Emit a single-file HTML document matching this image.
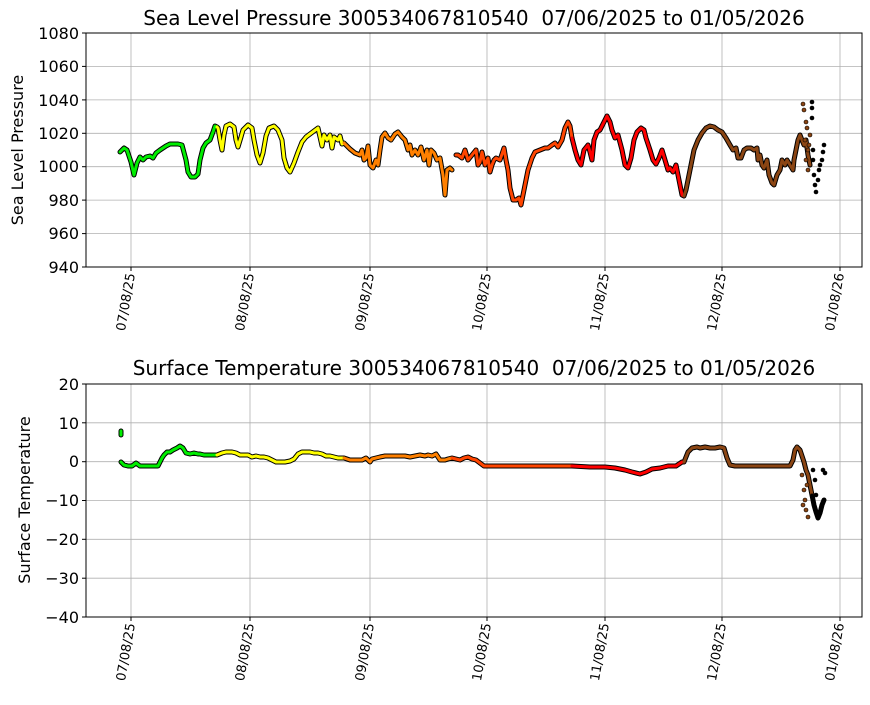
<!DOCTYPE html>
<html><head><meta charset="utf-8"><style>
body{margin:0;background:#fff}
text{font-family:"DejaVu Sans","Liberation Sans",sans-serif}
</style></head><body>
<svg width="870" height="700" xmlns="http://www.w3.org/2000/svg">
<rect width="870" height="700" fill="#fff"/>
<g stroke="#b0b0b0" stroke-width="0.8">
<line x1="131" y1="33" x2="131" y2="267"/><line x1="250" y1="33" x2="250" y2="267"/><line x1="370" y1="33" x2="370" y2="267"/><line x1="487" y1="33" x2="487" y2="267"/><line x1="605" y1="33" x2="605" y2="267"/><line x1="722" y1="33" x2="722" y2="267"/><line x1="840" y1="33" x2="840" y2="267"/>
<line x1="86" y1="66.4" x2="862" y2="66.4"/><line x1="86" y1="99.9" x2="862" y2="99.9"/><line x1="86" y1="133.3" x2="862" y2="133.3"/><line x1="86" y1="166.7" x2="862" y2="166.7"/><line x1="86" y1="200.1" x2="862" y2="200.1"/><line x1="86" y1="233.6" x2="862" y2="233.6"/>
<line x1="131" y1="384" x2="131" y2="617"/><line x1="250" y1="384" x2="250" y2="617"/><line x1="370" y1="384" x2="370" y2="617"/><line x1="487" y1="384" x2="487" y2="617"/><line x1="605" y1="384" x2="605" y2="617"/><line x1="722" y1="384" x2="722" y2="617"/><line x1="840" y1="384" x2="840" y2="617"/>
<line x1="86" y1="422.8" x2="862" y2="422.8"/><line x1="86" y1="461.7" x2="862" y2="461.7"/><line x1="86" y1="500.5" x2="862" y2="500.5"/><line x1="86" y1="539.3" x2="862" y2="539.3"/><line x1="86" y1="578.2" x2="862" y2="578.2"/>
</g>
<g fill="none" stroke-linejoin="round" stroke-linecap="round">
<g stroke="#000" stroke-width="5">
<polyline points="120,152 124,148 127,150 131,162 134,175 137,163 140,157 143,160 146,157 150,156 153,158 156,153 160,150 163,148 166,146 170,144 174,144 178,144 182,145 186,160 188,172 191,177 195,177 198,174 200,160 203,148 206,143 210,140 213,132 215,126 217,127 218,128 220,140 222,150 224,135 226,126 230,124 234,127 236,140 238,147 241,137 243,130 248,125 252,128 254,140 257,155 260,163 263,153 266,136 269,128 274,126 278,130 282,140 284,158 287,168 290,172 294,163 298,152 302,142 306,137 310,134 314,131 318,128 320,137 322,146 324,135 327,140 330,135 332,148 334,137 338,140 340,136 342,144 344,143 350,149 355,153 360,155 362,150 364,160 366,158 368,146 370,165 373,168 376,160 378,165 380,150 382,137 385,133 388,138 391,140 395,134 398,132 402,137 405,140 408,150 410,145 412,155 415,150 418,155 421,147 424,160 427,150 429,165 431,150 434,153 437,160 440,158 443,175 445,195 447,170 450,168 452,170"/>
<polyline points="456,155 458,155 462,158 465,150 468,160 472,155 476,150 478,165 480,162 482,152 485,165 488,158 490,172 492,165 494,160 496,158 500,160 504,148 506,160 508,170 510,188 513,200 516,200 519,198 521,205 523,195 526,180 528,170 532,158 535,152 540,150 545,148 548,148 552,145 555,143 558,147 562,140 565,128 568,122 570,126 572,138 575,150 578,160 581,165 584,150 588,145 590,152 592,160 594,140 597,132 600,130 604,122 607,116 610,122 612,130 615,138 618,135 622,150 625,165 628,168 631,158 634,140 637,132 641,128 644,130 646,138 650,150 653,160 656,164 659,158 662,150 665,160 668,170 670,168 673,172 676,165 679,180 682,195 684,196 686,190 690,170 694,150 698,140 702,133 706,128 710,126 714,127 718,130 722,132 726,138 730,145 733,150 736,148 738,158 741,158 744,150 747,148 751,148 754,150 757,148 758,160 760,155 762,165 764,168 767,160 769,175 772,183 774,185 777,175 780,170 782,160 785,165 787,160 790,165 793,170 794,160 796,150 798,140 800,135 802,140 804,145 806,140 808,155 810,165"/>
<polyline points="121,462 124,465 128,466 132,466 136,463 140,466 145,466 150,466 155,466 158,466 160,462 162,458 164,455 167,452 170,452 173,450 177,448 180,446 183,448 186,453 190,454 194,453 198,454 200,454 204,455 210,455 217,455 222,453 226,452 232,452 236,453 240,455 244,455 248,455 252,457 256,456 260,457 264,457 268,458 272,460 276,462 280,462 285,462 290,461 294,459 298,454 302,452 306,452 310,452 314,453 318,453 322,454 326,456 330,456 334,457 338,458 344,458 350,460 356,460 362,460 366,458 370,462 372,459 376,458 380,457 385,456 390,456 395,456 400,456 405,456 410,457 415,456 420,455 425,456 428,455 432,456 436,454 440,460 445,460 448,459 452,458 456,459 460,460 464,458 468,457 472,459 476,460 480,463 484,466 490,466 500,466 520,466 540,466 560,466 572,466 590,467 605,467 615,468 625,470 632,472 640,474 646,472 652,469 660,468 668,466 676,466 682,462 684,462 688,452 692,448 697,447 700,448 705,447 710,448 715,448 720,447 724,448 727,458 730,465 735,466 745,466 760,466 775,466 790,466 793,460 795,450 797,447 800,450 802,456 804,462 806,470 808,475 810,485 812,495 814,505 816,512 818,518 820,513 822,505 824,500"/>
<polyline points="121,431 121,435"/>
</g>
<g stroke-width="3">
<polyline stroke="#00ee00" points="120,152 124,148 127,150 131,162 134,175 137,163 140,157 143,160 146,157 150,156 153,158 156,153 160,150 163,148 166,146 170,144 174,144 178,144 182,145 186,160 188,172 191,177 195,177 198,174 200,160 203,148 206,143 210,140 213,132 215,126 217,127"/>
<polyline stroke="#ffff00" points="217,127 218,128 220,140 222,150 224,135 226,126 230,124 234,127 236,140 238,147 241,137 243,130 248,125 252,128 254,140 257,155 260,163 263,153 266,136 269,128 274,126 278,130 282,140 284,158 287,168 290,172 294,163 298,152 302,142 306,137 310,134 314,131 318,128 320,137 322,146 324,135 327,140 330,135 332,148 334,137 338,140 340,136 342,144 344,143"/>
<polyline stroke="#ff8000" points="344,143 350,149 355,153 360,155 362,150 364,160 366,158 368,146 370,165 373,168 376,160 378,165 380,150 382,137 385,133 388,138 391,140 395,134 398,132 402,137 405,140 408,150 410,145 412,155 415,150 418,155 421,147 424,160 427,150 429,165 431,150 434,153 437,160 440,158 443,175 445,195 447,170 450,168 452,170"/>
<polyline stroke="#ff4500" points="456,155 458,155 462,158 465,150 468,160 472,155 476,150 478,165 480,162 482,152 485,165 488,158 490,172 492,165 494,160 496,158 500,160 504,148 506,160 508,170 510,188 513,200 516,200 519,198 521,205 523,195 526,180 528,170 532,158 535,152 540,150 545,148 548,148 552,145 555,143 558,147 562,140 565,128 568,122 570,126 572,138"/>
<polyline stroke="#ff0000" points="572,138 575,150 578,160 581,165 584,150 588,145 590,152 592,160 594,140 597,132 600,130 604,122 607,116 610,122 612,130 615,138 618,135 622,150 625,165 628,168 631,158 634,140 637,132 641,128 644,130 646,138 650,150 653,160 656,164 659,158 662,150 665,160 668,170 670,168 673,172 676,165 679,180 682,195 684,196"/>
<polyline stroke="#8b4513" points="684,196 686,190 690,170 694,150 698,140 702,133 706,128 710,126 714,127 718,130 722,132 726,138 730,145 733,150 736,148 738,158 741,158 744,150 747,148 751,148 754,150 757,148 758,160 760,155 762,165 764,168 767,160 769,175 772,183 774,185 777,175 780,170 782,160 785,165 787,160 790,165 793,170 794,160 796,150 798,140 800,135 802,140 804,145 806,140 808,155 810,165"/>
<polyline stroke="#00ee00" points="121,431 121,435"/>
<polyline stroke="#00ee00" points="121,462 124,465 128,466 132,466 136,463 140,466 145,466 150,466 155,466 158,466 160,462 162,458 164,455 167,452 170,452 173,450 177,448 180,446 183,448 186,453 190,454 194,453 198,454 200,454 204,455 210,455 217,455"/>
<polyline stroke="#ffff00" points="217,455 222,453 226,452 232,452 236,453 240,455 244,455 248,455 252,457 256,456 260,457 264,457 268,458 272,460 276,462 280,462 285,462 290,461 294,459 298,454 302,452 306,452 310,452 314,453 318,453 322,454 326,456 330,456 334,457 338,458 344,458"/>
<polyline stroke="#ff8000" points="344,458 350,460 356,460 362,460 366,458 370,462 372,459 376,458 380,457 385,456 390,456 395,456 400,456 405,456 410,457 415,456 420,455 425,456 428,455 432,456 436,454 440,460 445,460 448,459 452,458"/>
<polyline stroke="#ff4500" points="452,458 456,459 460,460 464,458 468,457 472,459 476,460 480,463 484,466 490,466 500,466 520,466 540,466 560,466 572,466"/>
<polyline stroke="#ff0000" points="572,466 590,467 605,467 615,468 625,470 632,472 640,474 646,472 652,469 660,468 668,466 676,466 682,462 684,462"/>
<polyline stroke="#8b4513" points="684,462 688,452 692,448 697,447 700,448 705,447 710,448 715,448 720,447 724,448 727,458 730,465 735,466 745,466 760,466 775,466 790,466 793,460 795,450 797,447 800,450 802,456 804,462 806,470 808,475 810,485 812,495"/>
<polyline stroke="#000" points="812,495 814,505 816,512 818,518 820,513 822,505 824,500"/>
</g>
</g>
<g stroke="#000" stroke-width="0.6">
<g fill="#8b4513">
<circle cx="803" cy="104" r="2"/><circle cx="804" cy="110" r="2"/><circle cx="806" cy="122" r="2"/><circle cx="807" cy="128" r="2"/><circle cx="805" cy="140" r="2"/><circle cx="808" cy="150" r="2"/><circle cx="806" cy="160" r="2"/><circle cx="809" cy="145" r="2"/><circle cx="808" cy="170" r="2"/><circle cx="810" cy="135" r="2"/>
<circle cx="802" cy="475" r="2"/><circle cx="804" cy="490" r="2"/><circle cx="805" cy="500" r="2"/><circle cx="806" cy="510" r="2"/><circle cx="808" cy="517" r="2"/><circle cx="803" cy="505" r="2"/><circle cx="807" cy="485" r="2"/>
</g>
<g fill="#000">
<circle cx="812" cy="102" r="2"/><circle cx="812" cy="108" r="2"/><circle cx="812" cy="118" r="2"/><circle cx="813" cy="150" r="2"/><circle cx="813" cy="160" r="2"/><circle cx="814" cy="175" r="2"/><circle cx="815" cy="185" r="2"/><circle cx="816" cy="192" r="2"/><circle cx="818" cy="180" r="2"/><circle cx="820" cy="165" r="2"/><circle cx="822" cy="160" r="2"/><circle cx="823" cy="152" r="2"/><circle cx="824" cy="145" r="2"/><circle cx="819" cy="170" r="2"/>
<circle cx="813" cy="470" r="2"/><circle cx="815" cy="480" r="2"/><circle cx="816" cy="495" r="2"/><circle cx="823" cy="470" r="2"/><circle cx="825" cy="473" r="2"/>
</g>
</g>
<rect x="86" y="33" width="776" height="234" fill="none" stroke="#000" stroke-width="1"/>
<rect x="86" y="384" width="776" height="233" fill="none" stroke="#000" stroke-width="1"/>
<g font-size="16" fill="#000" text-anchor="end">
<text x="79" y="39">1080</text><text x="79" y="72">1060</text><text x="79" y="106">1040</text><text x="79" y="139">1020</text><text x="79" y="172">1000</text><text x="79" y="206">980</text><text x="79" y="239">960</text><text x="79" y="273">940</text>
<text x="79" y="390">20</text><text x="79" y="429">10</text><text x="79" y="467">0</text><text x="79" y="506">−10</text><text x="79" y="545">−20</text><text x="79" y="584">−30</text><text x="79" y="623">−40</text>
</g>
<g stroke="#000"><line x1="82" y1="33" x2="86" y2="33"/><line x1="82" y1="66.4" x2="86" y2="66.4"/><line x1="82" y1="99.9" x2="86" y2="99.9"/><line x1="82" y1="133.3" x2="86" y2="133.3"/><line x1="82" y1="166.7" x2="86" y2="166.7"/><line x1="82" y1="200.1" x2="86" y2="200.1"/><line x1="82" y1="233.6" x2="86" y2="233.6"/><line x1="82" y1="267" x2="86" y2="267"/>
<line x1="82" y1="384" x2="86" y2="384"/><line x1="82" y1="422.8" x2="86" y2="422.8"/><line x1="82" y1="461.7" x2="86" y2="461.7"/><line x1="82" y1="500.5" x2="86" y2="500.5"/><line x1="82" y1="539.3" x2="86" y2="539.3"/><line x1="82" y1="578.2" x2="86" y2="578.2"/><line x1="82" y1="617" x2="86" y2="617"/>
<line x1="131" y1="267" x2="131" y2="271"/><line x1="250" y1="267" x2="250" y2="271"/><line x1="370" y1="267" x2="370" y2="271"/><line x1="487" y1="267" x2="487" y2="271"/><line x1="605" y1="267" x2="605" y2="271"/><line x1="722" y1="267" x2="722" y2="271"/><line x1="840" y1="267" x2="840" y2="271"/>
<line x1="131" y1="617" x2="131" y2="621"/><line x1="250" y1="617" x2="250" y2="621"/><line x1="370" y1="617" x2="370" y2="621"/><line x1="487" y1="617" x2="487" y2="621"/><line x1="605" y1="617" x2="605" y2="621"/><line x1="722" y1="617" x2="722" y2="621"/><line x1="840" y1="617" x2="840" y2="621"/>
</g>
<g font-size="13" fill="#000" text-anchor="end">
<text transform="translate(135,274) rotate(-80)">07/08/25</text><text transform="translate(254,274) rotate(-80)">08/08/25</text><text transform="translate(374,274) rotate(-80)">09/08/25</text><text transform="translate(491,274) rotate(-80)">10/08/25</text><text transform="translate(609,274) rotate(-80)">11/08/25</text><text transform="translate(726,274) rotate(-80)">12/08/25</text><text transform="translate(844,274) rotate(-80)">01/08/26</text>
<text transform="translate(135,624) rotate(-80)">07/08/25</text><text transform="translate(254,624) rotate(-80)">08/08/25</text><text transform="translate(374,624) rotate(-80)">09/08/25</text><text transform="translate(491,624) rotate(-80)">10/08/25</text><text transform="translate(609,624) rotate(-80)">11/08/25</text><text transform="translate(726,624) rotate(-80)">12/08/25</text><text transform="translate(844,624) rotate(-80)">01/08/26</text>
</g>
<g font-size="20" fill="#000" text-anchor="middle">
<text x="474" y="25" xml:space="preserve">Sea Level Pressure 300534067810540  07/06/2025 to 01/05/2026</text>
<text x="474" y="375" xml:space="preserve">Surface Temperature 300534067810540  07/06/2025 to 01/05/2026</text>
</g>
<g font-size="16" fill="#000" text-anchor="middle">
<text transform="translate(23,150) rotate(-90)">Sea Level Pressure</text>
<text transform="translate(30,500) rotate(-90)">Surface Temperature</text>
</g>
</svg>
</body></html>
